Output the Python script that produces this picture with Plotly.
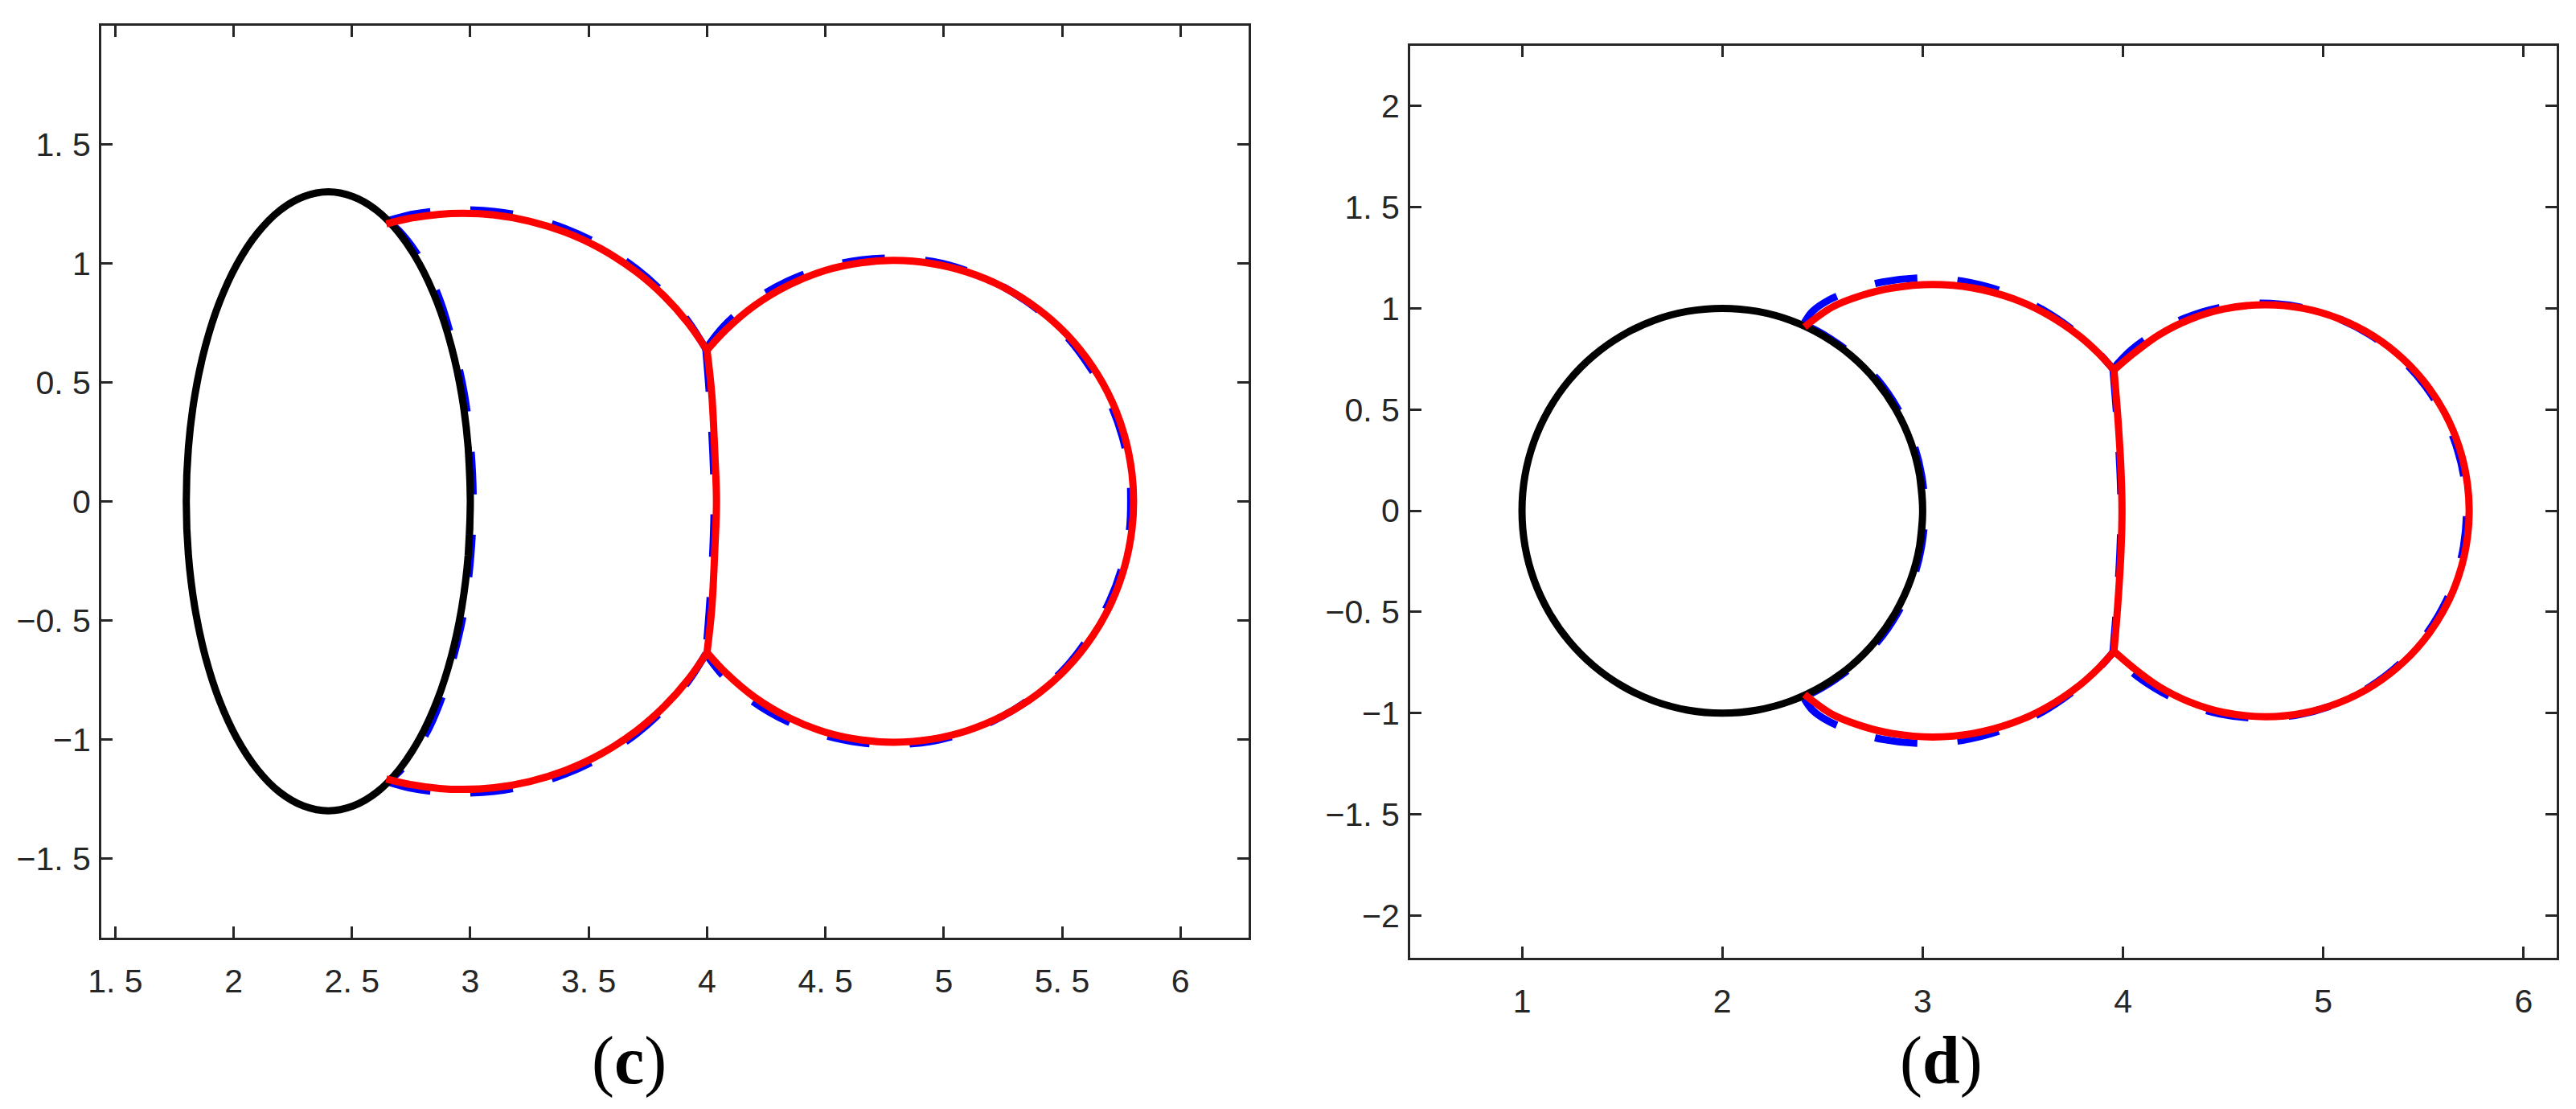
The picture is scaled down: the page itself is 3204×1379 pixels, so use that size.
import plotly.graph_objects as go

# ---- panel (c) ----
C_BLACK_X = [2.991, 3.000, 2.991, 2.964, 2.920, 2.860, 2.786, 2.700, 2.605, 2.504, 2.400, 2.296, 2.195, 2.100,
             2.014, 1.940, 1.880, 1.836, 1.809, 1.800, 1.809, 1.836, 1.880, 1.940, 2.014, 2.100, 2.195, 2.296,
             2.400, 2.504, 2.605, 2.700, 2.786, 2.860, 2.920, 2.964, 2.991, 3.000, 2.991]
C_BLACK_Y = [-0.226, 0.000, 0.226, 0.445, 0.650, 0.836, 0.996, 1.126, 1.222, 1.280, 1.300, 1.280, 1.222, 1.126,
             0.996, 0.836, 0.650, 0.445, 0.226, 0.000, -0.226, -0.445, -0.650, -0.836, -0.996, -1.126, -1.222, -1.280,
             -1.300, -1.280, -1.222, -1.126, -0.996, -0.836, -0.650, -0.445, -0.226, 0.000, 0.226]

C_RED_UP_X = [2.645, 2.75, 2.87, 2.97, 3.10, 3.25, 3.40, 3.55, 3.70, 3.82, 3.92, 4.00]
C_RED_UP_Y = [1.166, 1.190, 1.206, 1.210, 1.203, 1.177, 1.131, 1.062, 0.965, 0.861, 0.749, 0.635]
C_RED_LO_X = [2.645, 2.75, 2.87, 2.97, 3.10, 3.25, 3.40, 3.55, 3.70, 3.82, 3.92, 4.00]
C_RED_LO_Y = [-1.166, -1.190, -1.206, -1.210, -1.203, -1.177, -1.131, -1.062, -0.965, -0.861, -0.749, -0.635]
C_RED_MID_X = [4.00, 4.02, 4.033, 4.04, 4.033, 4.02, 4.00]
C_RED_MID_Y = [0.635, 0.45, 0.20, 0.00, -0.20, -0.45, -0.635]
C_RED_LOBE_X = [4.00, 4.08, 4.20, 4.35, 4.50, 4.65, 4.79, 4.95, 5.10, 5.25, 5.40, 5.52, 5.63, 5.71, 5.765, 5.795,
                5.802, 5.795, 5.765, 5.71, 5.63, 5.52, 5.40, 5.25, 5.10, 4.95, 4.79, 4.65, 4.50, 4.35, 4.20, 4.08, 4.00]
C_RED_LOBE_Y = [0.635, 0.721, 0.822, 0.911, 0.970, 1.002, 1.012, 0.999, 0.963, 0.901, 0.807, 0.701, 0.564, 0.422, 0.271, 0.119,
                0.0, -0.119, -0.271, -0.422, -0.564, -0.701, -0.807, -0.901, -0.963, -0.999, -1.012, -1.002, -0.970, -0.911, -0.822, -0.721, -0.635]

C_BLUE_RIM_X = [2.66, 2.71, 2.80, 2.87, 2.93, 2.975, 3.002, 3.012, 3.002, 2.975, 2.93, 2.87, 2.80, 2.71, 2.66]
C_BLUE_RIM_Y = [1.17, 1.125, 1.00, 0.85, 0.65, 0.45, 0.226, 0.0, -0.226, -0.45, -0.65, -0.85, -1.00, -1.125, -1.17]
C_BLUE_UP_X = [2.655, 2.75, 2.87, 2.97, 3.10, 3.25, 3.40, 3.55, 3.70, 3.82, 3.92, 3.995]
C_BLUE_UP_Y = [1.18, 1.205, 1.221, 1.225, 1.218, 1.192, 1.146, 1.076, 0.978, 0.872, 0.757, 0.64]
C_BLUE_LO_X = [2.655, 2.75, 2.87, 2.97, 3.10, 3.25, 3.40, 3.55, 3.70, 3.82, 3.92, 3.995]
C_BLUE_LO_Y = [-1.18, -1.205, -1.221, -1.225, -1.218, -1.192, -1.146, -1.076, -0.978, -0.872, -0.757, -0.64]
C_BLUE_MID_X = [3.995, 4.01, 4.025, 4.03, 4.025, 4.01, 3.995]
C_BLUE_MID_Y = [0.64, 0.45, 0.20, 0.0, -0.20, -0.45, -0.64]
C_BLUE_LOBE_X = [3.995, 4.07, 4.19, 4.34, 4.50, 4.65, 4.79, 4.95, 5.10, 5.25, 5.40, 5.52, 5.62, 5.70, 5.755, 5.785,
                 5.79, 5.785, 5.755, 5.70, 5.62, 5.52, 5.40, 5.25, 5.10, 4.95, 4.79, 4.65, 4.50, 4.34, 4.19, 4.07, 3.995]
C_BLUE_LOBE_Y = [0.64, 0.735, 0.838, 0.925, 0.984, 1.014, 1.022, 1.008, 0.968, 0.902, 0.803, 0.692, 0.560, 0.420, 0.270, 0.118,
                 0.0, -0.118, -0.270, -0.420, -0.560, -0.692, -0.803, -0.902, -0.968, -1.008, -1.022, -1.014, -0.984, -0.925, -0.838, -0.735, -0.64]

# ---- panel (d) ----
D_BLACK_X = [2.985, 3.000, 2.985, 2.940, 2.866, 2.766, 2.643, 2.500, 2.342, 2.174, 2.000, 1.826, 1.658, 1.500,
             1.357, 1.234, 1.134, 1.060, 1.015, 1.000, 1.015, 1.060, 1.134, 1.234, 1.357, 1.500, 1.658, 1.826,
             2.000, 2.174, 2.342, 2.500, 2.643, 2.766, 2.866, 2.940, 2.985, 3.000, 2.985]
D_BLACK_Y = [-0.174, 0.000, 0.174, 0.342, 0.500, 0.643, 0.766, 0.866, 0.940, 0.985, 1.000, 0.985, 0.940, 0.866,
             0.766, 0.643, 0.500, 0.342, 0.174, 0.000, -0.174, -0.342, -0.500, -0.643, -0.766, -0.866, -0.940, -0.985,
             -1.000, -0.985, -0.940, -0.866, -0.766, -0.643, -0.500, -0.342, -0.174, 0.000, 0.174]

D_RED_UP_X = [2.41, 2.55, 2.70, 2.85, 3.05, 3.25, 3.45, 3.62, 3.78, 3.88, 3.955]
D_RED_UP_Y = [0.908, 1.007, 1.065, 1.101, 1.118, 1.101, 1.048, 0.971, 0.865, 0.776, 0.695]
D_RED_LO_X = [2.41, 2.55, 2.70, 2.85, 3.05, 3.25, 3.45, 3.62, 3.78, 3.88, 3.955]
D_RED_LO_Y = [-0.908, -1.007, -1.065, -1.101, -1.118, -1.101, -1.048, -0.971, -0.865, -0.776, -0.695]
D_RED_MID_X = [3.955, 3.975, 3.99, 3.995, 3.99, 3.975, 3.955]
D_RED_MID_Y = [0.695, 0.45, 0.20, 0.0, -0.20, -0.45, -0.695]
D_RED_LOBE_X = [3.955, 4.05, 4.18, 4.33, 4.50, 4.71, 4.90, 5.08, 5.25, 5.40, 5.53, 5.63, 5.69, 5.72,
                5.728, 5.72, 5.69, 5.63, 5.53, 5.40, 5.25, 5.08, 4.90, 4.71, 4.50, 4.33, 4.18, 4.05, 3.955]
D_RED_LOBE_Y = [0.695, 0.775, 0.869, 0.944, 0.996, 1.018, 1.000, 0.948, 0.863, 0.748, 0.603, 0.436, 0.276, 0.127,
                0.0, -0.127, -0.276, -0.436, -0.603, -0.748, -0.863, -0.948, -1.000, -1.018, -0.996, -0.944, -0.869, -0.775, -0.695]

D_BLUE_RIM_X = [2.43, 2.505, 2.65, 2.775, 2.875, 2.95, 2.995, 3.01, 2.995, 2.95, 2.875, 2.775, 2.65, 2.505, 2.43]
D_BLUE_RIM_Y = [0.91, 0.871, 0.77, 0.648, 0.505, 0.345, 0.175, 0.0, -0.175, -0.345, -0.505, -0.648, -0.77, -0.871, -0.91]
D_BLUE_UP_X = [2.41, 2.45, 2.53, 2.64, 2.80, 3.00, 3.20, 3.40, 3.60, 3.78, 3.88, 3.95]
D_BLUE_UP_Y = [0.93, 0.985, 1.04, 1.085, 1.13, 1.15, 1.134, 1.083, 0.993, 0.870, 0.778, 0.70]
D_BLUE_LO_X = [2.41, 2.45, 2.53, 2.64, 2.80, 3.00, 3.20, 3.40, 3.60, 3.78, 3.88, 3.95]
D_BLUE_LO_Y = [-0.93, -0.985, -1.04, -1.085, -1.13, -1.15, -1.134, -1.083, -0.993, -0.870, -0.778, -0.70]
D_BLUE_MID_X = [3.95, 3.97, 3.985, 3.99, 3.985, 3.97, 3.95]
D_BLUE_MID_Y = [0.70, 0.45, 0.20, 0.0, -0.20, -0.45, -0.70]
D_BLUE_LOBE_X = [3.95, 4.04, 4.16, 4.31, 4.48, 4.68, 4.88, 5.06, 5.23, 5.38, 5.51, 5.61, 5.67, 5.70,
                 5.715, 5.70, 5.67, 5.61, 5.51, 5.38, 5.23, 5.06, 4.88, 4.68, 4.48, 4.31, 4.16, 4.04, 3.95]
D_BLUE_LOBE_Y = [0.70, 0.793, 0.877, 0.952, 1.003, 1.025, 1.007, 0.956, 0.871, 0.758, 0.615, 0.452, 0.300, 0.175,
                 0.0, -0.175, -0.300, -0.452, -0.615, -0.758, -0.871, -0.956, -1.007, -1.025, -1.003, -0.952, -0.877, -0.793, -0.70]

# ---- ticks ----
C_XTICKS = [1.5, 2, 2.5, 3, 3.5, 4, 4.5, 5, 5.5, 6]
C_XLABELS = ["1. 5", "2", "2. 5", "3", "3. 5", "4", "4. 5", "5", "5. 5", "6"]
C_YTICKS = [-1.5, -1, -0.5, 0, 0.5, 1, 1.5]
C_YLABELS = ["\u22121. 5", "\u22121", "\u22120. 5", "0", "0. 5", "1", "1. 5"]
D_XTICKS = [1, 2, 3, 4, 5, 6]
D_XLABELS = ["1", "2", "3", "4", "5", "6"]
D_YTICKS = [-2, -1.5, -1, -0.5, 0, 0.5, 1, 1.5, 2]
D_YLABELS = ["\u22122", "\u22121. 5", "\u22121", "\u22120. 5", "0", "0. 5", "1", "1. 5", "2"]

BLUE = "#0000FF"
RED = "#FF0000"
BLACK = "#000000"
AXIS = "#262626"
LW = 9

fig = go.Figure()


def curve(xs, ys, color, axis, dashed=False):
    fig.add_trace(go.Scatter(
        x=xs, y=ys, mode="lines",
        line=dict(color=color, width=LW, shape="spline", dash="53px,50px" if dashed else "solid"),
        xaxis="x" if axis == 1 else "x2", yaxis="y" if axis == 1 else "y2",
        hoverinfo="skip", showlegend=False,
    ))


# blue dashed first, then black, red on top
for xs, ys in [(C_BLUE_RIM_X, C_BLUE_RIM_Y), (C_BLUE_UP_X, C_BLUE_UP_Y), (C_BLUE_LO_X, C_BLUE_LO_Y),
               (C_BLUE_MID_X, C_BLUE_MID_Y), (C_BLUE_LOBE_X, C_BLUE_LOBE_Y)]:
    curve(xs, ys, BLUE, 1, dashed=True)
curve(C_BLACK_X, C_BLACK_Y, BLACK, 1)
for xs, ys in [(C_RED_UP_X, C_RED_UP_Y), (C_RED_LO_X, C_RED_LO_Y),
               (C_RED_MID_X, C_RED_MID_Y), (C_RED_LOBE_X, C_RED_LOBE_Y)]:
    curve(xs, ys, RED, 1)

for xs, ys in [(D_BLUE_RIM_X, D_BLUE_RIM_Y), (D_BLUE_UP_X, D_BLUE_UP_Y), (D_BLUE_LO_X, D_BLUE_LO_Y),
               (D_BLUE_MID_X, D_BLUE_MID_Y), (D_BLUE_LOBE_X, D_BLUE_LOBE_Y)]:
    curve(xs, ys, BLUE, 2, dashed=True)
curve(D_BLACK_X, D_BLACK_Y, BLACK, 2)
for xs, ys in [(D_RED_UP_X, D_RED_UP_Y), (D_RED_LO_X, D_RED_LO_Y),
               (D_RED_MID_X, D_RED_MID_Y), (D_RED_LOBE_X, D_RED_LOBE_Y)]:
    curve(xs, ys, RED, 2)

tickfont = dict(family="Liberation Sans, Arial, sans-serif", size=41, color=AXIS)
common = dict(showline=True, linewidth=3, linecolor=AXIS, mirror="ticks", ticks="inside",
              ticklen=14, tickwidth=3, tickcolor=AXIS, showgrid=False, zeroline=False,
              tickfont=tickfont, fixedrange=True, automargin=False)

W, H = 3204, 1379
OFF = 8  # page body margin pushes the figure 8px right and down


def px_x(p):
    return (p - OFF) / W


def px_y(p):
    return 1 - (p - OFF) / H


fig.update_layout(
    width=W, height=H, autosize=False,
    margin=dict(l=0, r=0, t=0, b=0),
    paper_bgcolor="white", plot_bgcolor="white",
    xaxis=dict(domain=[px_x(126), px_x(1553)], range=[1.441, 6.288], anchor="y",
               tickvals=C_XTICKS, ticktext=C_XLABELS, ticklabelstandoff=16, **common),
    yaxis=dict(domain=[px_y(1166), px_y(32)], range=[-1.833, 1.998], anchor="x",
               tickvals=C_YTICKS, ticktext=C_YLABELS, ticklabelstandoff=2, **common),
    xaxis2=dict(domain=[px_x(1754), px_x(3180)], range=[0.442, 6.165], anchor="y2",
                tickvals=D_XTICKS, ticktext=D_XLABELS, ticklabelstandoff=16, **common),
    yaxis2=dict(domain=[px_y(1191), px_y(57)], range=[-2.209, 2.297], anchor="x2",
                tickvals=D_YTICKS, ticktext=D_YLABELS, ticklabelstandoff=2, **common),
)

capfont = dict(family="Liberation Serif, Times New Roman, serif", size=84, color="#000000")
fig.add_annotation(text="(<b>c</b>)", x=px_x(782), y=px_y(1319), xref="paper", yref="paper",
                   showarrow=False, xanchor="center", yanchor="middle", font=capfont)
fig.add_annotation(text="(<b>d</b>)", x=px_x(2414), y=px_y(1319), xref="paper", yref="paper",
                   showarrow=False, xanchor="center", yanchor="middle", font=capfont)

fig.write_html("out.html")
